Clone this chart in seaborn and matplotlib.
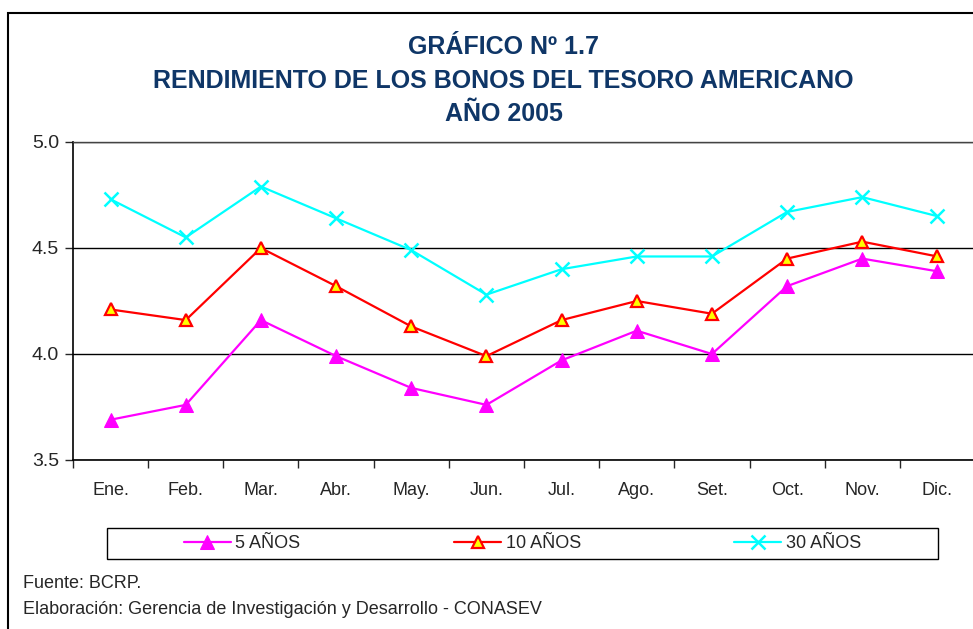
import matplotlib
matplotlib.use("Agg")
import matplotlib.pyplot as plt
import seaborn as sns
import pandas as pd
from matplotlib.patches import Rectangle

meses = ["Ene.", "Feb.", "Mar.", "Abr.", "May.", "Jun.", "Jul.", "Ago.", "Set.", "Oct.", "Nov.", "Dic."]
bonos_5 = [3.69, 3.76, 4.16, 3.99, 3.84, 3.76, 3.97, 4.11, 4.00, 4.32, 4.45, 4.39]
bonos_10 = [4.21, 4.16, 4.50, 4.32, 4.13, 3.99, 4.16, 4.25, 4.19, 4.45, 4.53, 4.46]
bonos_30 = [4.73, 4.55, 4.79, 4.64, 4.49, 4.28, 4.40, 4.46, 4.46, 4.67, 4.74, 4.65]

sns.set_style("white")
plt.rcParams["font.family"] = ["Liberation Sans", "DejaVu Sans"]

df = pd.DataFrame({"x": range(len(meses)), "b5": bonos_5, "b10": bonos_10, "b30": bonos_30})

fig = plt.figure(figsize=(9.73, 6.29), dpi=100)
ax = fig.add_axes([73 / 973, 1 - 460 / 629, 902 / 973, 318 / 629])

sns.lineplot(data=df, x="x", y="b5", ax=ax, color="#FF00FF", lw=1.6, marker="^",
             markersize=10, markerfacecolor="#FF00FF", markeredgecolor="#FF00FF", label="5 AÑOS")
sns.lineplot(data=df, x="x", y="b10", ax=ax, color="#FF0000", lw=1.6, marker="^",
             markersize=9, markerfacecolor="#FFFF00", markeredgecolor="#FF0000",
             markeredgewidth=1.6, label="10 AÑOS")
sns.lineplot(data=df, x="x", y="b30", ax=ax, color="#00FFFF", lw=1.6, marker="x",
             markersize=10, markeredgewidth=1.8, markeredgecolor="#00FFFF", label="30 AÑOS")

ax.set_xlim(-0.5, 11.5)
ax.set_ylim(3.5, 5.0)
ax.set_yticks([3.5, 4.0, 4.5, 5.0])
ax.set_yticklabels(["3.5", "4.0", "4.5", "5.0"])
ax.set_xticks(range(len(meses)))
ax.set_xticklabels(meses)
ax.set_xticks([i - 0.5 for i in range(13)], minor=True)
ax.tick_params(axis="x", which="major", length=0, pad=16, labelsize=13)
ax.tick_params(axis="x", which="minor", length=6, width=1, direction="out", bottom=True)
ax.tick_params(axis="y", length=6, width=1, direction="out", left=True, pad=4, labelsize=14)
ax.set_xlabel("")
ax.set_ylabel("")
ax.grid(axis="y", color="black", lw=1)
ax.grid(axis="x", visible=False)
for s in ["left", "bottom"]:
    ax.spines[s].set_color("black")
    ax.spines[s].set_linewidth(1.2)
ax.spines["right"].set_visible(False)
ax.spines["top"].set_color("#444444")
ax.spines["top"].set_linewidth(1)

handles, labels = ax.get_legend_handles_labels()
ax.get_legend().remove()
fig.legend(handles, labels, loc="center", ncol=3, mode="expand", frameon=False,
           bbox_to_anchor=(184 / 973, 1 - 559 / 629, (861 - 184) / 973, 31 / 629),
           borderpad=0, borderaxespad=0, fontsize=13, handlelength=2.6, handletextpad=0.25)
fig.patches.append(Rectangle((107 / 973, 1 - 559 / 629), 831 / 973, 31 / 629,
                             transform=fig.transFigure, fill=False, edgecolor="black", lw=1))

# marco exterior
fig.patches.append(Rectangle((8 / 973, -0.1), 1.2, 1.1 - 13 / 629,
                             transform=fig.transFigure, fill=False, edgecolor="black", lw=1.5))

titulo = ["GRÁFICO Nº 1.7", "RENDIMIENTO DE LOS BONOS DEL TESORO AMERICANO", "AÑO 2005"]
for i, t in enumerate(titulo):
    fig.text(503.5 / 973, 1 - (47 + 33.5 * i) / 629, t, ha="center", va="center",
             fontsize=18, fontweight="bold", color="#0F3667")

fig.text(23 / 973, 1 - 584 / 629, "Fuente: BCRP.", ha="left", va="center", fontsize=13)
fig.text(23 / 973, 1 - 610 / 629, "Elaboración: Gerencia de Investigación y Desarrollo - CONASEV",
         ha="left", va="center", fontsize=13)

fig.savefig("out.png", dpi=100)
